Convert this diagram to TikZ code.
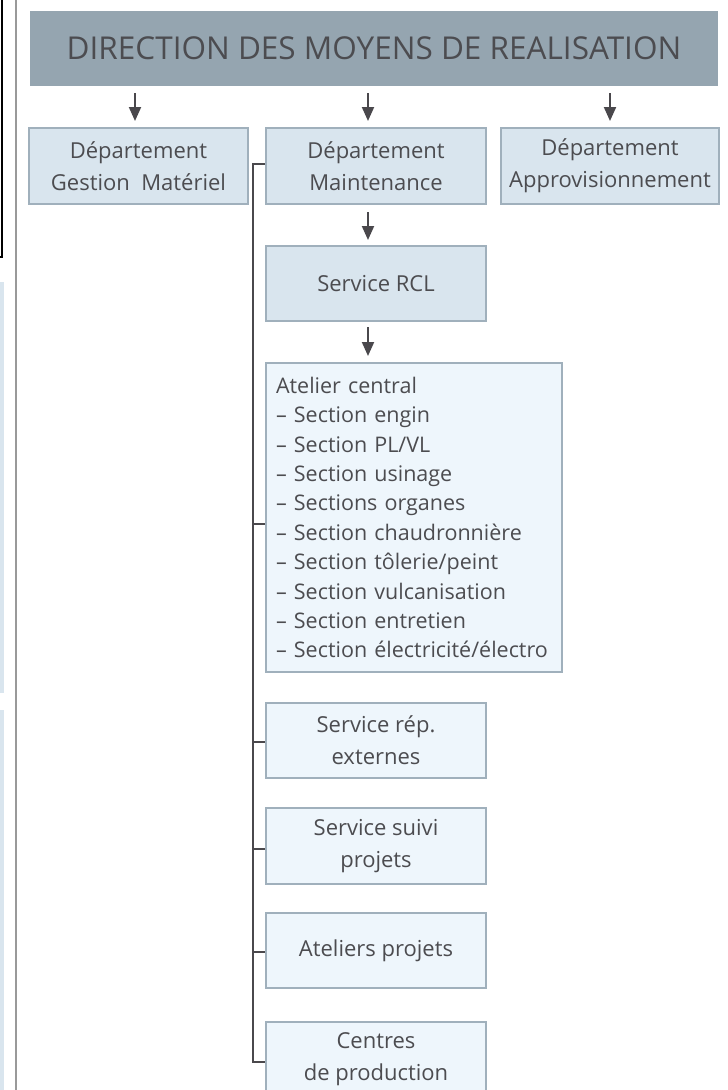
\documentclass[tikz,border=0pt]{standalone}
\usepackage{fontspec}
\setmainfont{Open Sans}
\usepackage{xcolor}
\usetikzlibrary{arrows.meta}
\definecolor{dmrtitle}{RGB}{149, 165, 176}
\definecolor{dmrdept}{RGB}{217, 229, 238}
\definecolor{dmrpale}{RGB}{238, 246, 252}
\definecolor{dmrframe}{RGB}{160, 176, 188}
\definecolor{dmrtext}{RGB}{76, 76, 80}
\definecolor{dmrline}{RGB}{74, 72, 76}

\begin{document}
\begin{tikzpicture}[x=1pt, y=-1pt,
    box/.style={draw=dmrframe, line width=2pt, fill=dmrdept, text=dmrtext,
        font=\fontsize{22}{32}\selectfont, align=center, inner sep=0pt},
    subbox/.style={box, fill=dmrpale},
    arr/.style={draw=dmrline, line width=2pt, -{Triangle[width=12pt, length=14pt]}},
    brk/.style={draw=dmrline, line width=2pt}]
    \useasboundingbox (0,0) rectangle (728,1090);

    % Neighbouring page edge
    \fill[dmrdept] (0,282) rectangle (4,693);
    \fill[dmrdept] (0,710) rectangle (4,1090);
    \draw[black, line width=1.2pt] (2,0) -- (2,257) -- (0,257);
    \draw[gray!80, line width=2.5pt] (16,0) -- (16,1090);

    % Direction
    \node[box, draw=none, fill=dmrtitle, minimum width=688, minimum height=75,
        font=\fontsize{31.5}{40}\selectfont] (dmr) at (374,48.5)
        {DIRECTION DES MOYENS DE REALISATION};

    % Departments
    \node[box, minimum width=219, minimum height=76] (gestion) at (138.5,166)
        {Département\\Gestion\ \ Matériel};
    \node[box, minimum width=220, minimum height=76] (maint) at (376,166)
        {Département\\Maintenance};
    \node[box, minimum width=218, minimum height=76] (appro) at (610,166)
        {Département\\Approvisionnement};

    % Maintenance services
    \node[box, minimum width=220, minimum height=75] (rcl) at (376,283.5) {Service RCL};
    \node[subbox, minimum width=296, minimum height=309, text width=276, align=left,
        font=\fontsize{21.5}{29.4}\selectfont] (atelier) at (414,517.5)
        {Atelier central\\
        – Section engin\\
        – Section PL/VL\\
        – Section usinage\\
        – Sections organes\\
        – Section chaudronnière\\
        – Section tôlerie/peint\\
        – Section vulcanisation\\
        – Section entretien\\
        – Section électricité/électro};
    \node[subbox, minimum width=220, minimum height=75] (rep) at (376,740.5)
        {Service rép.\\externes};
    \node[subbox, minimum width=220, minimum height=76] (suivi) at (376,846)
        {Service suivi\\projets};
    \node[subbox, minimum width=220, minimum height=75] (projets) at (376,950.5)
        {Ateliers projets};
    \node[subbox, minimum width=220, minimum height=75] (centres) at (376,1059.5)
        {Centres\\de production};

    % Arrows
    \draw[arr] ([yshift=-6]dmr.south -| 135,0) -- ([yshift=6]gestion.north -| 135,0);
    \draw[arr] ([yshift=-6]dmr.south -| 368,0) -- ([yshift=6]maint.north -| 368,0);
    \draw[arr] ([yshift=-6]dmr.south -| appro.north) -- ([yshift=6]appro.north);
    \draw[arr] ([yshift=-7]maint.south -| 368,0) -- ([yshift=5]rcl.north -| 368,0);
    \draw[arr] ([yshift=-5]rcl.south -| 368,0) -- ([yshift=6]atelier.north -| 368,0);

    % Bracket
    \draw[brk] ([yshift=2]maint.west) -- ++(-12,0) |- ([yshift=-2.5]centres.west);
    \foreach \n/\dy in {atelier/-6, rep/-1.5, suivi/-3, projets/-1.5}
        \draw[brk] ([yshift=\dy]\n.west) -- ++(-12,0);
\end{tikzpicture}
\end{document}
